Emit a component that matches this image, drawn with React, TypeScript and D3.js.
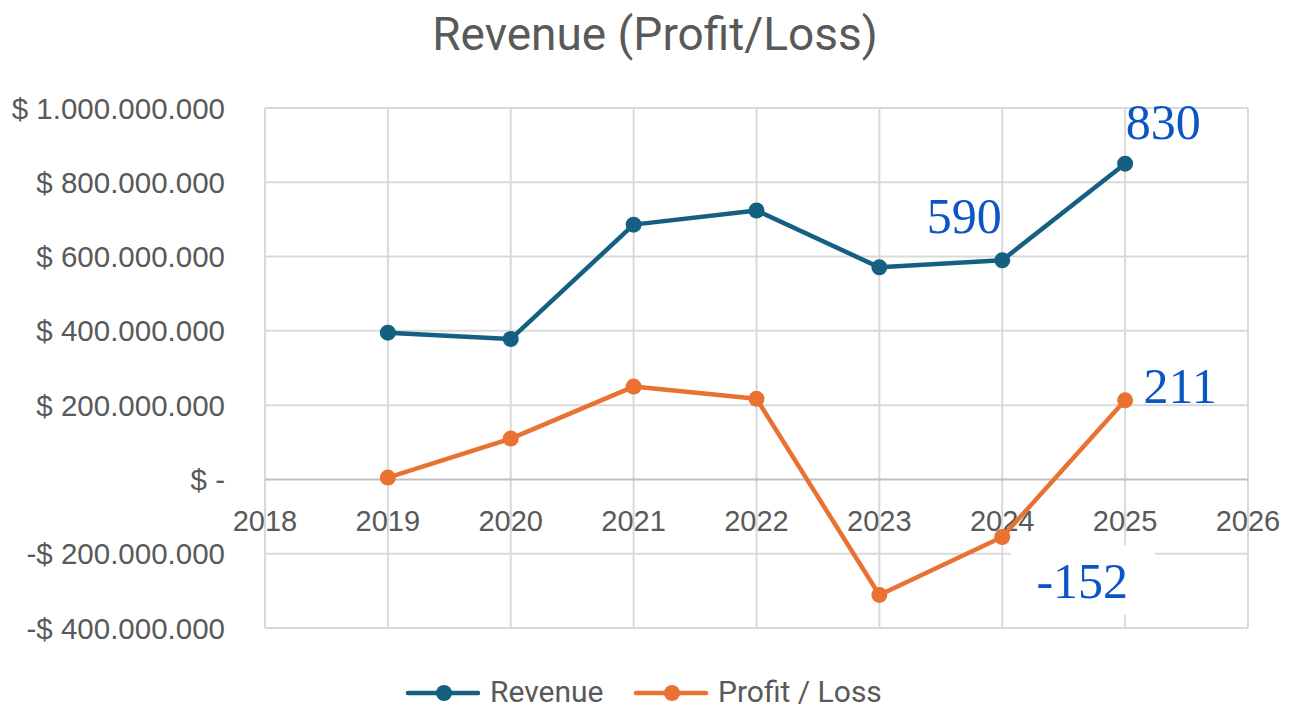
import React from "react";
import * as d3 from "d3";

const years = [2019, 2020, 2021, 2022, 2023, 2024, 2025];
const revenue = [395e6, 378e6, 686e6, 724e6, 571e6, 590e6, 850e6];
const profitLoss = [5e6, 110e6, 250e6, 217e6, -311e6, -155e6, 213e6];
const yTicks = [-400e6, -200e6, 0, 200e6, 400e6, 600e6, 800e6, 1000e6];
const xTicks = [2018, 2019, 2020, 2021, 2022, 2023, 2024, 2025, 2026];
const seriesNames = ["Revenue", "Profit / Loss"];
const colors = ["#156082", "#E97132"];
const annotations = [
  { series: 0, year: 2025, text: "830", dx: 38, dy: -42 },
  { series: 0, year: 2024, text: "590", dx: -38, dy: -45 },
  { series: 1, year: 2025, text: "211", dx: 55, dy: -15 },
  { series: 1, year: 2024, text: "-152", dx: 80, dy: 43, bg: true },
];

const W = 1298;
const H = 711;
const left = 265, right = 1248, top = 108, bottom = 628;

function fmt(v: number) {
  if (v === 0) return "$ -";
  const s = d3.format(",")(Math.abs(v)).replace(/,/g, ".");
  return (v < 0 ? "-$ " : "$ ") + s;
}

export default function App() {
  const x = d3.scaleLinear().domain([2018, 2026]).range([left, right]);
  const y = d3.scaleLinear().domain([-400e6, 1000e6]).range([bottom, top]);
  const line = d3
    .line<[number, number]>()
    .x((d) => x(d[0]))
    .y((d) => y(d[1]));
  const data = [revenue, profitLoss];
  const axisFont = "'Liberation Sans', Arial, sans-serif";
  const gray = "#595959";
  return (
    <div style={{ position: "absolute", left: 0, top: 0 }}>
      <svg width={W} height={H} style={{ display: "block", background: "#fff" }}>
        <text
          x={655}
          y={50}
          textAnchor="middle"
          fontFamily="Roboto, sans-serif"
          fontSize={46}
          fill={gray}
        >
          Revenue (Profit/Loss)
        </text>
        {xTicks.map((t) => (
          <line key={"vx" + t} x1={x(t)} x2={x(t)} y1={top} y2={bottom} stroke="#d9d9d9" strokeWidth={2} />
        ))}
        {yTicks.map((t) => (
          <line
            key={"hy" + t}
            x1={left}
            x2={right}
            y1={y(t)}
            y2={y(t)}
            stroke={t === 0 ? "#bfbfbf" : "#d9d9d9"}
            strokeWidth={2}
          />
        ))}
        {yTicks.map((t) => (
          <text
            key={"yl" + t}
            x={225}
            y={y(t)}
            dy="0.36em"
            textAnchor="end"
            fontFamily={axisFont}
            fontSize={29.5}
            fill={gray}
          >
            {fmt(t)}
          </text>
        ))}
        {xTicks.map((t) => (
          <text
            key={"xl" + t}
            x={x(t)}
            y={y(0) + 41}
            dy="0.36em"
            textAnchor="middle"
            fontFamily={axisFont}
            fontSize={29}
            fill={gray}
          >
            {t}
          </text>
        ))}
        {data.map((vals, i) => {
          const pts = years.map((yr, j) => [yr, vals[j]] as [number, number]);
          return (
            <g key={"s" + i}>
              <path d={line(pts) || ""} fill="none" stroke={colors[i]} strokeWidth={4.5} strokeLinejoin="round" />
              {pts.map((p, j) => (
                <circle key={j} cx={x(p[0])} cy={y(p[1])} r={8} fill={colors[i]} />
              ))}
            </g>
          );
        })}
        {annotations.map((a, k) => {
          const vals = data[a.series];
          const j = years.indexOf(a.year);
          const cx = x(a.year) + a.dx;
          const cy = y(vals[j]) + a.dy;
          return (
            <g key={"a" + k}>
              {a.bg && <rect x={cx - 72} y={cy - 35} width={145} height={70} fill="#fff" />}
              <text
                x={cx}
                y={cy}
                dy="0.35em"
                textAnchor="middle"
                fontFamily="'Liberation Serif', 'DejaVu Serif', serif"
                fontSize={50}
                fill="#0B56C4"
              >
                {a.text}
              </text>
            </g>
          );
        })}
        {seriesNames.map((n, i) => {
          const lx = i === 0 ? 408 : 636;
          const ly = 693;
          return (
            <g key={"lg" + i}>
              <line x1={lx} x2={lx + 70} y1={ly} y2={ly} stroke={colors[i]} strokeWidth={4.5} strokeLinecap="round" />
              <circle cx={lx + 36} cy={ly} r={8} fill={colors[i]} />
              <text x={lx + 82} y={ly + 9} fontFamily="Roboto, sans-serif" fontSize={30} fill={gray}>
                {n}
              </text>
            </g>
          );
        })}
      </svg>
    </div>
  );
}
